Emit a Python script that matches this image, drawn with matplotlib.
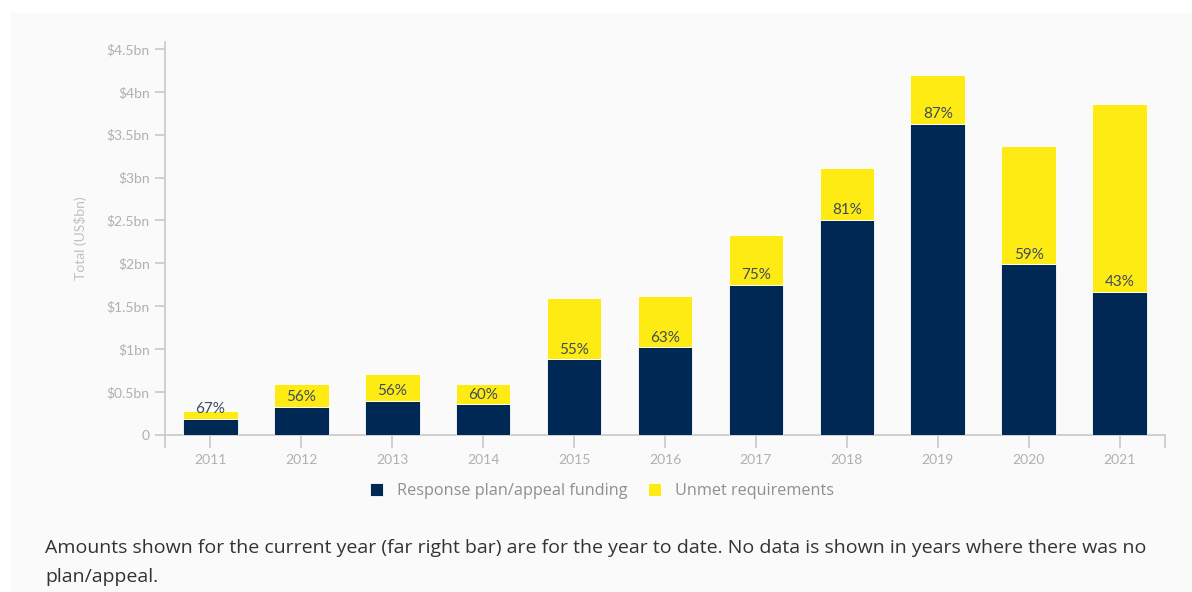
import matplotlib.pyplot as plt
from matplotlib.patches import Rectangle
import numpy as np

years = ["2011", "2012", "2013", "2014", "2015", "2016", "2017", "2018", "2019", "2020", "2021"]
funded = [0.19, 0.33, 0.40, 0.36, 0.88, 1.02, 1.75, 2.51, 3.63, 1.99, 1.67]
unmet = [0.095, 0.26, 0.31, 0.24, 0.72, 0.60, 0.58, 0.60, 0.56, 1.38, 2.19]
coverage = ["67%", "56%", "56%", "60%", "55%", "63%", "75%", "81%", "87%", "59%", "43%"]
yticks = [0, 0.5, 1, 1.5, 2, 2.5, 3, 3.5, 4, 4.5]
ytick_labels = ["0", "$0.5bn", "$1bn", "$1.5bn", "$2bn", "$2.5bn", "$3bn", "$3.5bn", "$4bn", "$4.5bn"]

NAVY = "#002855"
YELLOW = "#ffeb14"
PANEL = "#fafafa"

plt.rcParams["font.family"] = ["Lato", "DejaVu Sans"]

fig = plt.figure(figsize=(11.92, 5.92), dpi=100, facecolor="white")
fig.patches.append(Rectangle((10 / 1192, 0), 1, 1 - 13 / 592, transform=fig.transFigure,
                             facecolor=PANEL, edgecolor="none", zorder=-10))

ax = fig.add_axes([165 / 1192, 1 - 435 / 592, 1000 / 1192, 393 / 592])
ax.set_facecolor(PANEL)

x = np.arange(len(years))
ax.bar(x, funded, width=0.6, color=NAVY, edgecolor="white", linewidth=0.6,
       label="Response plan/appeal funding", zorder=3)
ax.bar(x, unmet, width=0.6, bottom=funded, color=YELLOW, edgecolor="white", linewidth=0.6,
       label="Unmet requirements", zorder=3)

# coverage percentage sits just above the funded segment
for xi, f, pct in zip(x, funded, coverage):
    ax.text(xi, f + 0.03, pct, ha="center", va="bottom", fontsize=11,
            color="#3d4b5c", zorder=4)

ax.set_xlim(-0.5, 10.5)
ax.set_ylim(0, 4.58)
ax.set_yticks(yticks)
ax.set_yticklabels(ytick_labels)
ax.set_xticks(list(x) + [-0.5, 10.5])
ax.set_xticklabels(years + ["", ""])

for side in ["top", "right"]:
    ax.spines[side].set_visible(False)
for side in ["left", "bottom"]:
    ax.spines[side].set_color("#c8c8c8")
    ax.spines[side].set_linewidth(1.2)

ax.tick_params(axis="y", colors="#c8c8c8", labelcolor="#b0b0b0", labelsize=10,
               length=7, width=1.2, pad=4)
ax.tick_params(axis="x", colors="#c8c8c8", labelcolor="#b0b0b0", labelsize=10,
               length=9, width=1.2, pad=5)
ax.set_ylabel("Total (US$bn)", color="#c0c0c0", fontsize=10, labelpad=14)

ax.legend(loc="upper center", bbox_to_anchor=(0.437, -0.085), ncol=2, frameon=False,
          prop={"family": ["Open Sans", "DejaVu Sans"], "size": 11.7},
          labelcolor="#8f8f8f", handlelength=0.8, handleheight=0.8,
          handletextpad=0.9, columnspacing=1.2)

note_font = {"family": ["Open Sans", "DejaVu Sans"], "size": 14}
fig.text(45 / 1192, 1 - 548 / 592,
         "Amounts shown for the current year (far right bar) are for the year to date. "
         "No data is shown in years where there was no",
         color="#333333", va="center", fontdict=note_font)
fig.text(45 / 1192, 1 - 577 / 592, "plan/appeal.", color="#333333", va="center",
         fontdict=note_font)

fig.savefig("out.png", dpi=100, facecolor=fig.get_facecolor())
